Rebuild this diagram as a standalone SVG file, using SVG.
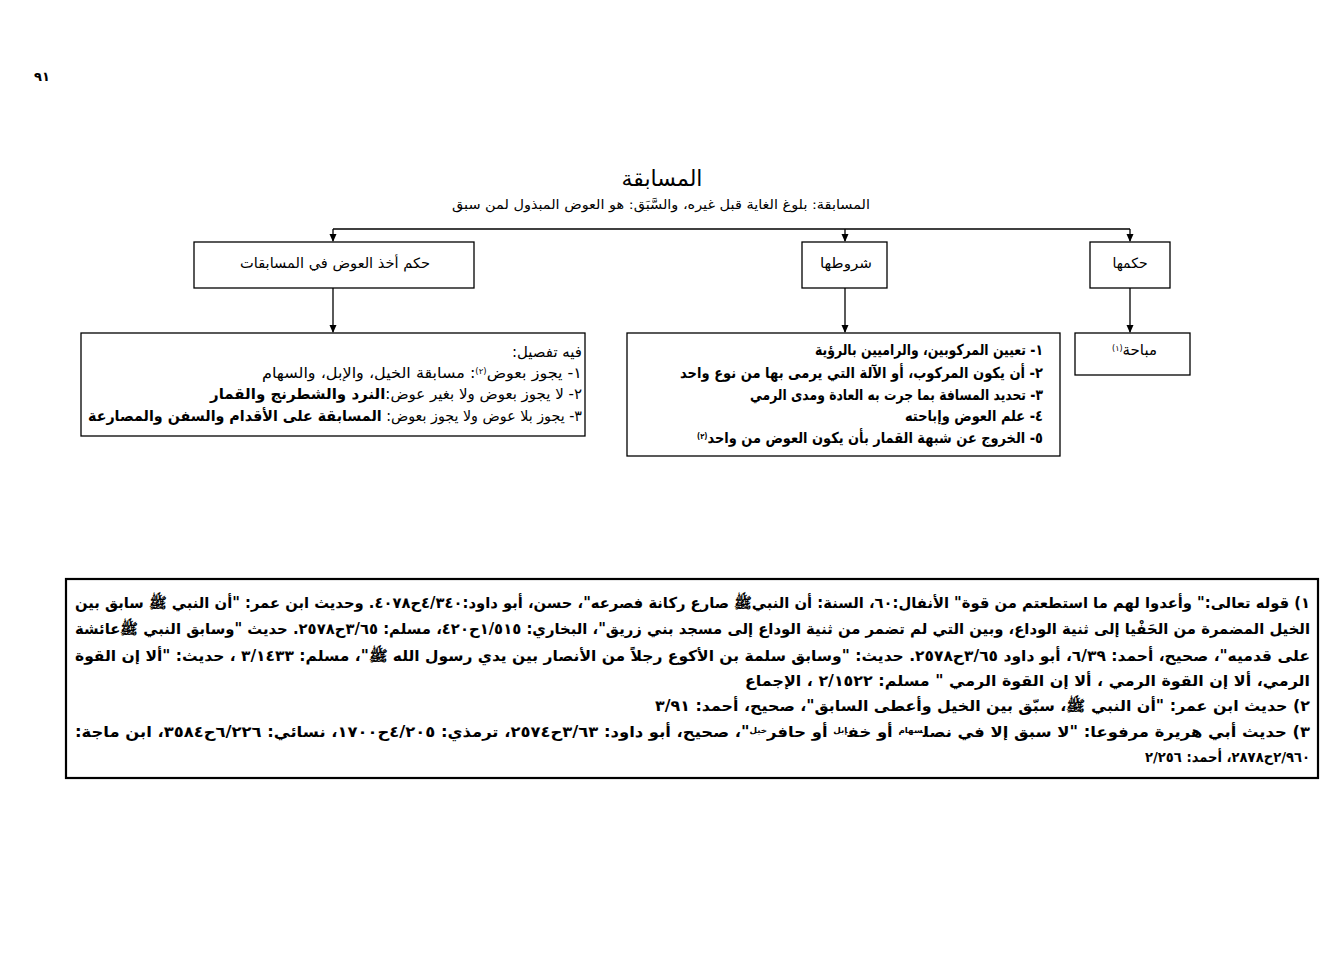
<svg xmlns="http://www.w3.org/2000/svg" width="1336" height="969" viewBox="0 0 1336 969">
<style>
.bg{fill:#fff}
.box{fill:#fff;stroke:#000;stroke-width:1.3}
.fbox{fill:#fff;stroke:#000;stroke-width:2.2}
.t{font-family:"DejaVu Sans",sans-serif;fill:#000;direction:rtl;unicode-bidi:embed}
.c{text-anchor:middle}
.r{text-anchor:start}
.b{font-weight:bold}
.ln{stroke:#000;stroke-width:1.3;fill:none}
.sup{font-size:8px}
</style>
<defs>
<marker id="ah" markerWidth="8" markerHeight="8" refX="7" refY="4" orient="auto" markerUnits="userSpaceOnUse">
<path d="M0,0.5 L8,4 L0,7.5 Z" fill="#000"/>
</marker>
</defs>
<rect class="bg" x="0" y="0" width="1336" height="969"/>
<text class="t c b" x="42" y="81" font-size="13">٩١</text>

<g id="title">
<text class="t c" x="662" y="186" font-size="22">المسابقة</text>
<text class="t c" x="661" y="209" font-size="13" textLength="418" lengthAdjust="spacingAndGlyphs">المسابقة: بلوغ الغاية قبل غيره، والسَّبَق: هو العوض المبذول لمن سبق</text>
</g>

<g id="connectors">
<path class="ln" d="M333,229 H1130"/>
<path class="ln" d="M333,229 V241" marker-end="url(#ah)"/>
<path class="ln" d="M845,229 V241" marker-end="url(#ah)"/>
<path class="ln" d="M1130,229 V241" marker-end="url(#ah)"/>
<path class="ln" d="M333,288 V332" marker-end="url(#ah)"/>
<path class="ln" d="M845,288 V332" marker-end="url(#ah)"/>
<path class="ln" d="M1130,288 V332" marker-end="url(#ah)"/>
</g>

<g id="n-hukm-awad">
<rect class="box" x="194" y="242" width="280" height="46"/>
<text class="t c" x="335" y="268" font-size="14" textLength="190" lengthAdjust="spacingAndGlyphs">حكم أخذ العوض في المسابقات</text>
</g>
<g id="n-shurut">
<rect class="box" x="802" y="242" width="85" height="46"/>
<text class="t c" x="846" y="268" font-size="14" textLength="52" lengthAdjust="spacingAndGlyphs">شروطها</text>
</g>
<g id="n-hukmuha">
<rect class="box" x="1090" y="242" width="80" height="46"/>
<text class="t c" x="1130" y="268" font-size="14">حكمها</text>
</g>

<g id="n-tafsil">
<rect class="box" x="81" y="333" width="504" height="103"/>
<text class="t r" x="582" y="357" font-size="15" textLength="70" lengthAdjust="spacingAndGlyphs">فيه تفصيل:</text>
<text class="t r" x="582" y="378" font-size="15" textLength="320" lengthAdjust="spacingAndGlyphs">١- يجوز بعوض<tspan class="sup" baseline-shift="super">(٢)</tspan>: مسابقة الخيل، والإبل، والسهام</text>
<text class="t r" x="582" y="399" font-size="15" textLength="372" lengthAdjust="spacingAndGlyphs">٢- لا يجوز بعوض ولا بغير عوض:<tspan class="b">النرد والشطرنج والقمار</tspan></text>
<text class="t r" x="582" y="421" font-size="15" textLength="494" lengthAdjust="spacingAndGlyphs">٣- يجوز بلا عوض ولا يجوز بعوض: <tspan class="b">المسابقة على الأقدام والسفن والمصارعة</tspan></text>
</g>

<g id="n-shurut-list">
<rect class="box" x="627" y="333" width="433" height="123"/>
<text class="t r b" x="1043" y="355" font-size="15" textLength="228" lengthAdjust="spacingAndGlyphs">١- تعيين المركوبين، والراميين بالرؤية</text>
<text class="t r b" x="1043" y="378" font-size="15" textLength="363" lengthAdjust="spacingAndGlyphs">٢- أن يكون  المركوب، أو الآلة التي يرمى بها من نوع واحد</text>
<text class="t r b" x="1043" y="400" font-size="15" textLength="293" lengthAdjust="spacingAndGlyphs">٣- تحديد المسافة بما جرت به العادة ومدى الرمي</text>
<text class="t r b" x="1043" y="421" font-size="15" textLength="138" lengthAdjust="spacingAndGlyphs">٤- علم العوض وإباحته</text>
<text class="t r b" x="1043" y="443" font-size="15" textLength="346" lengthAdjust="spacingAndGlyphs">٥- الخروج عن شبهة القمار بأن يكون العوض من واحد<tspan class="sup" baseline-shift="super">(٢)</tspan></text>
</g>

<g id="n-mubaha">
<rect class="box" x="1075" y="333" width="115" height="42"/>
<text class="t r" x="1157" y="355" font-size="15">مباحة<tspan class="sup" baseline-shift="super">(١)</tspan></text>
</g>

<g id="footnotes">
<rect class="fbox" x="66" y="579" width="1252" height="199"/>
<text class="t r b" x="1310" y="608" font-size="15" textLength="1235" lengthAdjust="spacingAndGlyphs">١)  قوله تعالى:" وأعدوا لهم ما استطعتم من قوة" الأنفال:٦٠، السنة: أن النبيﷺ صارع ركانة فصرعه"، حسن، أبو داود:٤/٣٤٠ح٤٠٧٨. وحديث ابن عمر: "أن النبي ﷺ سابق بين</text>
<text class="t r b" x="1310" y="634" font-size="15" textLength="1235" lengthAdjust="spacingAndGlyphs">الخيل المضمرة من الحَفْيا إلى ثنية الوداع، وبين التي لم تضمر من ثنية الوداع إلى مسجد بني زريق"، البخاري: ١/٥١٥ح٤٢٠، مسلم: ٣/٦٥ح٢٥٧٨. حديث "وسابق النبي ﷺعائشة</text>
<text class="t r b" x="1310" y="661" font-size="15" textLength="1235" lengthAdjust="spacingAndGlyphs">على قدميه"، صحيح، أحمد: ٦/٣٩، أبو داود ٣/٦٥ح٢٥٧٨. حديث: "وسابق سلمة بن الأكوع رجلاً من الأنصار بين يدي رسول الله ﷺ"، مسلم: ٣/١٤٣٣ ، حديث: "ألا إن القوة</text>
<text class="t r b" x="1310" y="686" font-size="15" textLength="565" lengthAdjust="spacingAndGlyphs">الرمي، ألا إن القوة الرمي ، ألا إن القوة الرمي " مسلم: ٢/١٥٢٢ ، الإجماع</text>
<text class="t r b" x="1310" y="711" font-size="15" textLength="655" lengthAdjust="spacingAndGlyphs">٢) حديث ابن عمر: "أن النبي ﷺ، سبّق بين الخيل وأعطى السابق"، صحيح، أحمد: ٣/٩١</text>
<text class="t r b" x="1310" y="737" font-size="15" textLength="1235" lengthAdjust="spacingAndGlyphs">٣) حديث أبي هريرة مرفوعا: "لا سبق إلا في نصل<tspan class="sup" baseline-shift="super">سهام</tspan> أو خف<tspan class="sup" baseline-shift="super">إبل</tspan> أو حافر<tspan class="sup" baseline-shift="super">خيل</tspan>"، صحيح، أبو داود: ٣/٦٣ح٢٥٧٤، ترمذي: ٤/٢٠٥ح١٧٠٠، نسائي: ٦/٢٢٦ح٣٥٨٤، ابن ماجة:</text>
<text class="t r b" x="1310" y="762" font-size="14" textLength="165" lengthAdjust="spacingAndGlyphs">٢/٩٦٠ح٢٨٧٨، أحمد: ٢/٢٥٦</text>
</g>
</svg>
